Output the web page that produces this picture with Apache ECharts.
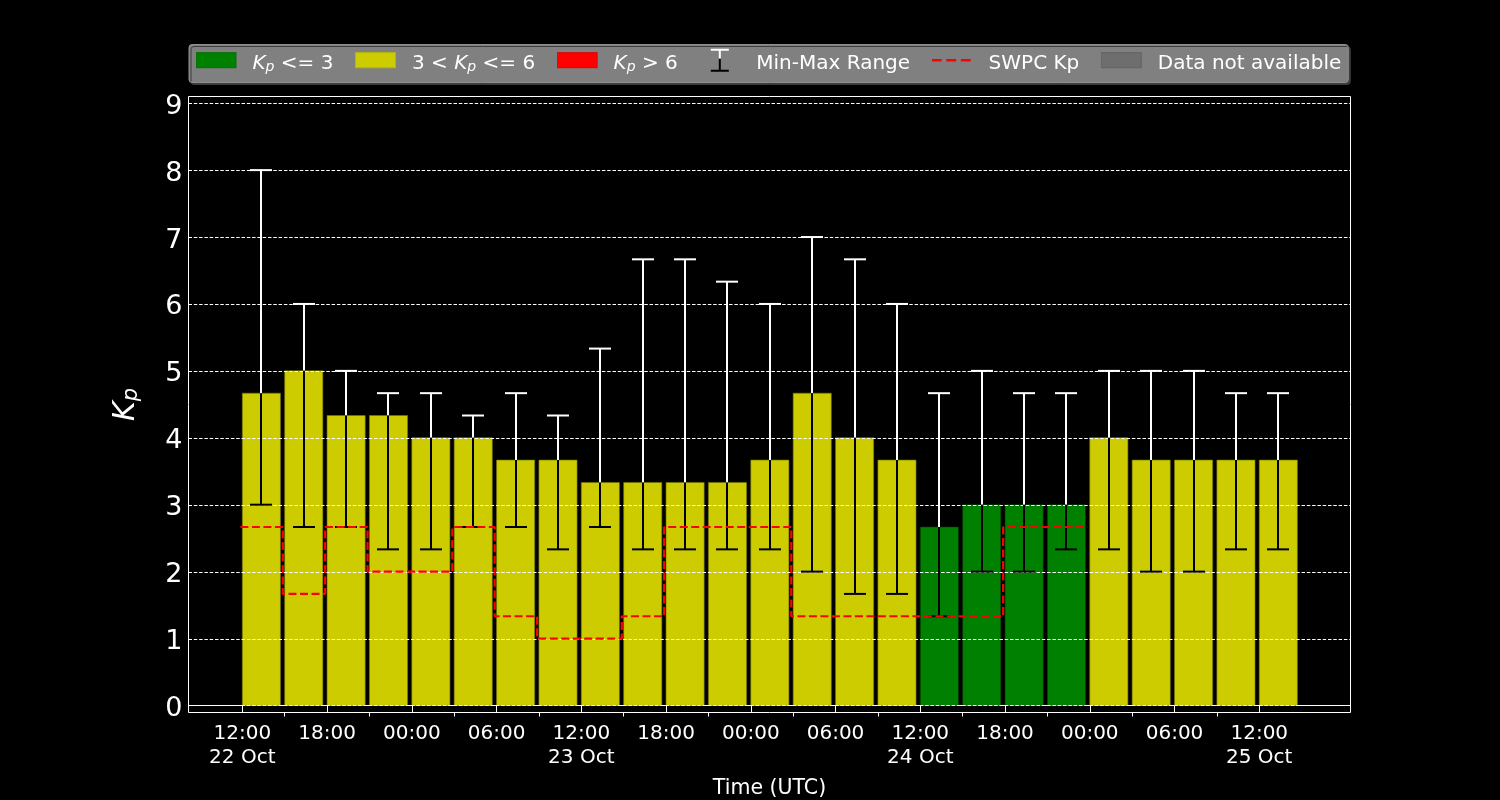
<!DOCTYPE html>
<html>
<head>
<meta charset="utf-8">
<script src="https://cdn.jsdelivr.net/npm/echarts@6/dist/echarts.min.js"></script>
<style>
html,body{margin:0;padding:0;background:#000;}
#chart{width:1500px;height:800px;}
</style>
</head>
<body>
<div id="chart"></div>
<script>
// ---------------- data ----------------
const barTimes = [
  '2024-10-22 12:00','2024-10-22 15:00','2024-10-22 18:00','2024-10-22 21:00',
  '2024-10-23 00:00','2024-10-23 03:00','2024-10-23 06:00','2024-10-23 09:00',
  '2024-10-23 12:00','2024-10-23 15:00','2024-10-23 18:00','2024-10-23 21:00',
  '2024-10-24 00:00','2024-10-24 03:00','2024-10-24 06:00','2024-10-24 09:00',
  '2024-10-24 12:00','2024-10-24 15:00','2024-10-24 18:00','2024-10-24 21:00',
  '2024-10-25 00:00','2024-10-25 03:00','2024-10-25 06:00','2024-10-25 09:00',
  '2024-10-25 12:00'
];
const kpValues = [4.667,5.0,4.333,4.333,4.0,4.0,3.667,3.667,3.333,3.333,3.333,3.333,
                  3.667,4.667,4.0,3.667,2.667,3.0,3.0,3.0,4.0,3.667,3.667,3.667,3.667];
const kpMin = [3.0,2.667,2.667,2.333,2.333,2.667,2.667,2.333,2.667,2.333,2.333,2.333,
               2.333,2.0,1.667,1.667,1.333,2.0,2.0,2.333,2.333,2.0,2.0,2.333,2.333];
const kpMax = [8.0,6.0,5.0,4.667,4.667,4.333,4.667,4.333,5.333,6.667,6.667,6.333,
               6.0,7.0,6.667,6.0,4.667,5.0,4.667,4.667,5.0,5.0,5.0,4.667,4.667];

const swpcTimes = [
  '2024-10-22 11:52','2024-10-22 14:52','2024-10-22 17:52','2024-10-22 20:52','2024-10-22 23:52',
  '2024-10-23 02:52','2024-10-23 05:52','2024-10-23 08:52','2024-10-23 11:52',
  '2024-10-23 14:52','2024-10-23 17:52','2024-10-23 20:52','2024-10-23 23:52',
  '2024-10-24 02:52','2024-10-24 05:52','2024-10-24 08:52','2024-10-24 11:52',
  '2024-10-24 14:52','2024-10-24 17:52','2024-10-24 20:52','2024-10-24 23:52'
];
const swpcKp = [2.667,1.667,2.667,2.0,2.0,2.667,1.333,1.0,1.0,1.333,2.667,2.667,2.667,
                1.333,1.333,1.333,1.333,1.333,2.667,2.667,2.667];

const majorTickTimes = [
  '2024-10-22 12:00','2024-10-22 18:00','2024-10-23 00:00','2024-10-23 06:00',
  '2024-10-23 12:00','2024-10-23 18:00','2024-10-24 00:00','2024-10-24 06:00',
  '2024-10-24 12:00','2024-10-24 18:00','2024-10-25 00:00','2024-10-25 06:00',
  '2024-10-25 12:00'
];
const majorTickLabels = ['12:00\n22 Oct','18:00','00:00','06:00','12:00\n23 Oct','18:00',
                         '00:00','06:00','12:00\n24 Oct','18:00','00:00','06:00','12:00\n25 Oct'];
const minorTickTimes = [
  '2024-10-22 15:00','2024-10-22 21:00','2024-10-23 03:00','2024-10-23 09:00',
  '2024-10-23 15:00','2024-10-23 21:00','2024-10-24 03:00','2024-10-24 09:00',
  '2024-10-24 15:00','2024-10-24 21:00','2024-10-25 03:00','2024-10-25 09:00'
];
const yTickValues = [0,1,2,3,4,5,6,7,8,9];
const legendNames = ['Kp <= 3','3 < Kp <= 6','Kp > 6','Min-Max Range','SWPC Kp','Data not available'];

// ---------------- helpers ----------------
function toMs(s){
  const [d,t] = s.split(' ');
  const [Y,M,D] = d.split('-').map(Number);
  const [h,m] = t.split(':').map(Number);
  return Date.UTC(Y, M-1, D, h, m);
}
const HOUR = 3600e3;
const BAR_SPAN = 2.7 * HOUR;
const T0 = toMs(majorTickTimes[0]);
const X_MIN = T0 - 3.81 * HOUR;
const X_MAX = T0 + 78.46 * HOUR;
const FONT = 'DejaVu Sans';

const rows = barTimes.map((s,i) => [toMs(s), kpValues[i], kpMin[i], kpMax[i]]);
const greenRows = rows.filter(r => r[1] <= 3);
const yellowRows = rows.filter(r => r[1] > 3 && r[1] <= 6);
const redRows = rows.filter(r => r[1] > 6);
const lowerRows = barTimes.map((s,i) => [toMs(s), kpMin[i], kpValues[i]]);
const upperRows = barTimes.map((s,i) => [toMs(s), kpValues[i], kpMax[i]]);
const majorMs = majorTickTimes.map(toMs);
const minorMs = minorTickTimes.map(toMs);

function barRender(fill, edge){
  return function(params, api){
    const t = api.value(0), v = api.value(1);
    const a = api.coord([t, 0]);
    const b = api.coord([t + BAR_SPAN, v]);
    return {type:'rect', shape:{x:a[0], y:b[1], width:b[0]-a[0], height:a[1]-b[1]},
            style:{fill:fill, stroke:edge, lineWidth:1}};
  };
}
// one half of the min-max bar: vertical from value(1) to value(2), cap at one end
function halfErrRender(color, capAtFirst){
  return function(params, api){
    const c = api.value(0) + BAR_SPAN/2;
    const p1 = api.coord([c, api.value(1)]);
    const p2 = api.coord([c, api.value(2)]);
    const x = Math.round(p1[0]);
    const cap = 11;
    const cy = capAtFirst ? p1[1] : p2[1];
    return {type:'group', children:[
      {type:'line', shape:{x1:x, y1:p1[1], x2:x, y2:p2[1]}, style:{stroke:color, lineWidth:2, fill:null}},
      {type:'line', shape:{x1:x-cap, y1:cy, x2:x+cap, y2:cy}, style:{stroke:color, lineWidth:2, fill:null}}
    ]};
  };
}
function gridRender(params, api){
  const y = Math.round(api.coord([api.value(0), api.value(1)])[1]) + 0.5;
  const cs = params.coordSys;
  return {type:'line', shape:{x1:cs.x, y1:y, x2:cs.x+cs.width, y2:y},
          style:{stroke:'#ffffff', lineWidth:1, lineDash:[3.5,1.8]}};
}

function svgIcon(inner){
  const svg = '<svg xmlns="http://www.w3.org/2000/svg" width="52" height="31" viewBox="0 0 52 31">' + inner + '</svg>';
  return 'image://data:image/svg+xml;charset=utf-8,' + encodeURIComponent(svg);
}
const CY = 12.2;
const legendIcons = {
  'Kp <= 3': svgIcon('<rect x="0.5" y="'+(CY-7.5)+'" width="40" height="15" fill="#008000" stroke="#007000" stroke-width="1"/>'),
  '3 < Kp <= 6': svgIcon('<rect x="0.5" y="'+(CY-7.5)+'" width="40" height="15" fill="#cccc00" stroke="#b8b800" stroke-width="1"/>'),
  'Kp > 6': svgIcon('<rect x="0.5" y="'+(CY-7.5)+'" width="40" height="15" fill="#ff0000" stroke="#e00000" stroke-width="1"/>'),
  'Min-Max Range': svgIcon(
    '<line x1="20.5" y1="'+(CY-10.5)+'" x2="20.5" y2="'+(CY-1.5)+'" stroke="#fff" stroke-width="2"/>' +
    '<line x1="11.5" y1="'+(CY-10.5)+'" x2="29.5" y2="'+(CY-10.5)+'" stroke="#fff" stroke-width="2"/>' +
    '<line x1="20.5" y1="'+(CY-1.5)+'" x2="20.5" y2="'+(CY+10.5)+'" stroke="#000" stroke-width="2"/>' +
    '<line x1="11.5" y1="'+(CY+10.5)+'" x2="29.5" y2="'+(CY+10.5)+'" stroke="#000" stroke-width="2"/>'),
  'SWPC Kp': svgIcon('<line x1="0" y1="'+CY+'" x2="41" y2="'+CY+'" stroke="#ff0000" stroke-width="2.5" stroke-dasharray="10 4.6"/>'),
  'Data not available': svgIcon('<rect x="0.5" y="'+(CY-7.5)+'" width="40" height="15" fill="#6e6e6e" stroke="#626262" stroke-width="1"/>')
};

const chart = echarts.init(document.getElementById('chart'), null, {renderer:'canvas'});
const option = {
  backgroundColor: '#000000',
  animation: false,
  textStyle: {fontFamily: FONT},
  legend: {
    left: 189, top: 44.5,
    orient: 'horizontal',
    itemWidth: 52, itemHeight: 31, itemGap: 21.5,
    padding: [3.5, 7, 3.5, 6.5],
    backgroundColor: '#808080',
    borderColor: '#8e8e8e', borderWidth: 1, borderRadius: 3,
    shadowColor: '#3c3c3c', shadowBlur: 0, shadowOffsetX: 2, shadowOffsetY: 2,
    selectedMode: false,
    data: legendNames.map(n => ({name: n, icon: legendIcons[n]})),
    formatter: function(name){
      return name === 'SWPC Kp' ? name : name.replace('Kp', '{k|K}{p|p}');
    },
    textStyle: {
      color: '#ffffff', fontSize: 20, fontFamily: FONT,
      rich: {
        k: {color:'#ffffff', fontSize:20, fontStyle:'italic', fontFamily: FONT},
        p: {color:'#ffffff', fontSize:14, fontStyle:'italic', fontFamily: FONT, padding:[7,0,0,0]}
      }
    }
  },
  grid: {
    left: 188.5, top: 96.5, width: 1162, height: 616,
    show: true, borderColor: '#ffffff', borderWidth: 1, backgroundColor: 'transparent',
    outerBoundsMode: 'none'
  },
  xAxis: [{
    type: 'value', min: X_MIN, max: X_MAX, position: 'bottom',
    name: 'Time (UTC)', nameLocation: 'middle', nameGap: 64,
    nameTextStyle: {color:'#ffffff', fontSize:20.5, fontFamily: FONT, lineHeight: 24},
    axisLine: {show:true, lineStyle:{color:'#ffffff', width:1}},
    axisTick: {show:true, customValues: majorMs, length: 6.5, lineStyle:{color:'#ffffff', width:1}},
    axisLabel: {
      show: true, customValues: majorMs, color:'#ffffff', fontSize: 20, fontFamily: FONT,
      lineHeight: 24, margin: 9,
      formatter: function(v){ const i = majorMs.indexOf(v); return i >= 0 ? majorTickLabels[i] : ''; }
    },
    splitLine: {show:false}
  }, {
    type: 'value', min: X_MIN, max: X_MAX, position: 'bottom',
    axisLine: {show:false},
    axisTick: {show:true, customValues: minorMs, length: 4, lineStyle:{color:'#ffffff', width:1}},
    axisLabel: {show:false},
    splitLine: {show:false}
  }],
  yAxis: {
    type: 'value', min: -0.105, max: 9.1,
    name: '{k|K}{p|p}', nameLocation: 'middle', nameRotate: 90, nameGap: 46,
    nameTextStyle: {
      color:'#ffffff',
      rich: {
        k: {color:'#ffffff', fontSize:30, fontStyle:'italic', fontFamily: FONT},
        p: {color:'#ffffff', fontSize:21, fontStyle:'italic', fontFamily: FONT, padding:[11,0,0,0]}
      }
    },
    axisLine: {show:false},
    axisTick: {show:false},
    axisLabel: {
      customValues: yTickValues, color:'#ffffff', fontSize: 27, fontFamily: FONT, margin: 6,
      formatter: function(v){ return '{n|' + v + '}'; },
      rich: {n: {color:'#ffffff', fontSize:27, fontFamily: FONT, padding:[7,0,0,0]}}
    },
    splitLine: {show:false}
  },
  series: [
    {name:'Kp <= 3', type:'custom', z:1, data: greenRows, encode:{x:0, y:1},
     renderItem: barRender('#008000', 'rgba(0,60,0,0.6)')},
    {name:'3 < Kp <= 6', type:'custom', z:1, data: yellowRows, encode:{x:0, y:1},
     renderItem: barRender('#cccc00', 'rgba(120,120,0,0.6)')},
    {name:'Kp > 6', type:'custom', z:1, data: redRows, encode:{x:0, y:1},
     renderItem: barRender('#ff0000', 'rgba(140,0,0,0.6)')},
    {name:'Data not available', type:'custom', z:1, data: [], encode:{x:0, y:1},
     renderItem: barRender('#6e6e6e', '#626262')},
    {name:'gridlines', type:'custom', z:2, silent:true, data: yTickValues.map(v => [X_MIN, v]),
     encode:{x:0, y:1}, renderItem: gridRender},
    {name:'Min-Max Range', type:'custom', z:3, data: upperRows, encode:{x:0, y:[1,2]},
     renderItem: halfErrRender('#ffffff', false)},
    {name:'Min-Max lower', type:'custom', z:3, data: lowerRows, encode:{x:0, y:[1,2]},
     renderItem: halfErrRender('#000000', true)},
    {name:'SWPC Kp', type:'line', z:4, step:'end', symbol:'none',
     data: swpcTimes.map((s,i) => [toMs(s), swpcKp[i]]),
     lineStyle:{color:'#ff0000', width:2.2, type:[8,3.5]}}
  ]
};
chart.setOption(option);
</script>
</body>
</html>
